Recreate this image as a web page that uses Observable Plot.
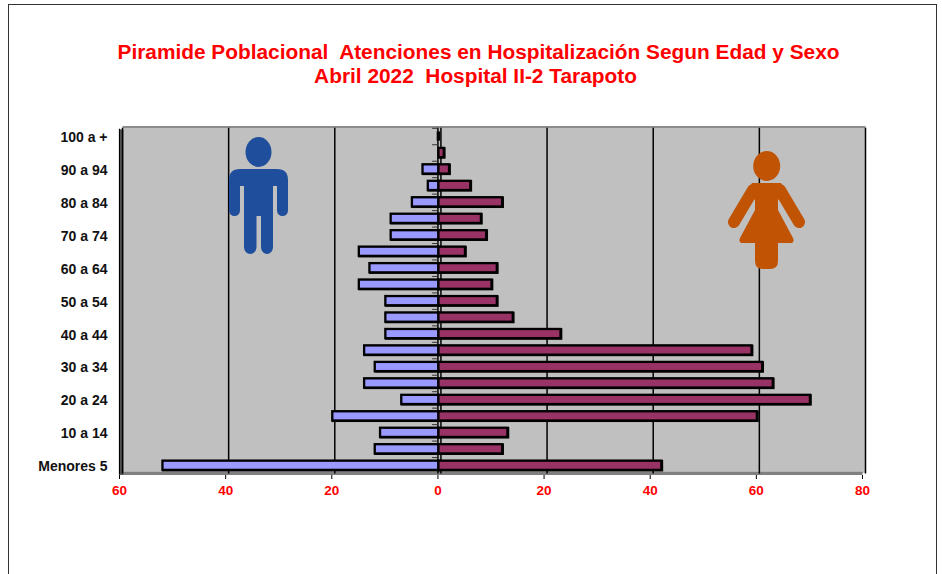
<!DOCTYPE html>
<html><head><meta charset="utf-8">
<script src="https://cdn.jsdelivr.net/npm/d3@7"></script>
<script src="https://cdn.jsdelivr.net/npm/@observablehq/plot@0.6"></script>
<style>
html,body{margin:0;padding:0;background:#fff;overflow:hidden}
#page{position:relative;width:942px;height:574px;font-family:"Liberation Sans",Arial,sans-serif}
#frame{position:absolute;left:8px;top:4px;width:929px;height:580px;border:1.5px solid #333;box-sizing:border-box}
#chart{position:absolute;left:0;top:0}
.t{position:absolute;left:0;width:957px;text-align:center;color:#f00;font-weight:bold;font-size:20.85px;line-height:24px;white-space:pre}
#icons{position:absolute;left:0;top:0}
</style></head><body>
<div id="page">
<div id="frame"></div>
<div id="chart"></div>
<div class="t" style="top:40px">Piramide Poblacional  Atenciones en Hospitalización Segun Edad y Sexo</div>
<div class="t" style="top:64px;left:-3px">Abril 2022  Hospital II-2 Tarapoto</div>
<svg id="icons" width="942" height="574">
  <g fill="#1f4e9c">
    <ellipse cx="258.500" cy="152" rx="13" ry="15"/>
    <path d="M240 169H277Q288 169 288 180V210.500a5.500 5.500 0 0 1-11 0V186H273V247a6 7 0 0 1-12 0V216H256.500V247a6.250 7 0 0 1-12.500 0V186H240V210.500a5.500 5.500 0 0 1-11 0V180Q229 169 240 169Z"/>
  </g>
  <g fill="#c05304" stroke="none">
    <ellipse cx="766.700" cy="166" rx="13.500" ry="15"/>
    <path d="M755 195H778V210L793 238Q795 243 790 243H778V261Q778 269 770 269H763Q755 269 755 261V243H743Q738 243 740 238L755 210Z"/>
    <path d="M753 190L734 222M780 190L799 222" stroke="#c05304" stroke-width="12" stroke-linecap="round" fill="none"/>
    <path d="M752 183H781L786 192L778 200H755L747 192Z"/>
  </g>
</svg>
</div>
<script>
const ages = ["100 a +","95 a 99","90 a 94","85 a 89","80 a 84","75 a 79","70 a 74","65 a 69","60 a 64","55 a 59","50 a 54","45 a 49","40 a 44","35 a 39","30 a 34","25 a 29","20 a 24","15 a 19","10 a 14","5 a 9","Menores 5"];
const hombres = [0,0,3,2,5,9,9,15,13,15,10,10,10,14,12,14,7,20,11,12,52];
const mujeres = [0,1,2,6,12,8,9,5,11,10,11,14,23,59,61,63,70,60,13,12,42];
const yLabels = ["100 a +","90 a 94","80 a 84","70 a 74","60 a 64","50 a 54","40 a 44","30 a 34","20 a 24","10 a 14","Menores 5"];
const xTicks = [-60,-40,-20,0,20,40,60,80];
const menData = ages.map((a,i)=>({age:a,v:-hombres[i]}));
const womenData = ages.map((a,i)=>({age:a,v:mujeres[i]}));
const emptyRows = ages.filter((a,i)=>hombres[i]===0 && mujeres[i]===0);
const bars = (data, fill) => [
  Plot.barX(data,{x1:0,x2:"v",y:"age",fill:"#000",stroke:"#000",strokeWidth:2.3,dx:1.7,dy:0.4}),
  Plot.barX(data,{x1:0,x2:"v",y:"age",fill,stroke:"#000",strokeWidth:2.3,dx:1})
];
const chart = Plot.plot({
  width:942,height:574,
  marginLeft:119,marginRight:80,marginTop:127.8,marginBottom:100.5,
  style:{background:"transparent",fontFamily:"'Liberation Sans',Arial,sans-serif"},
  x:{domain:[-60,80],ticks:xTicks},
  y:{domain:ages,paddingInner:0.44,paddingOuter:0.22,round:false},
  marks:[
    Plot.frame({fill:"#c0c0c0",stroke:null,dx:3.5,dy:-1}),
    Plot.frame({fill:"#808080",insetTop:342.5,dy:1}),
    Plot.frame({fill:"#5a5a5a",insetRight:739,dy:1}),
    Plot.ruleY([ages[0]],{dy:-9.5,dx:3.5,stroke:"#8c8c8c",strokeWidth:2}),
    Plot.ruleX(xTicks,{dx:3,stroke:"#000",strokeWidth:1.5}),
    Plot.ruleX([xTicks[0]],{stroke:"#000",strokeWidth:1.2,dy:1}),
    Plot.ruleX([0],{stroke:"#000",strokeWidth:1.5}),
    Plot.ruleY(ages,{y:d=>d,x1:-1,x2:0,dy:-8.23,stroke:"#333"}),
    ...bars(menData,"#9999ff"),
    ...bars(womenData,"#993366"),
    Plot.tickX(emptyRows,{x:0,y:d=>d,stroke:"#000",strokeWidth:3.5,dx:0.5}),
    Plot.axisX({anchor:"bottom",ticks:xTicks,tickSize:4,dy:1.5,tickPadding:6,tickFormat:d=>Math.abs(d),label:null,fill:"#f00",stroke:"#000",fontSize:13.5,fontWeight:"bold"}),
    Plot.axisY({anchor:"left",ticks:yLabels,tickSize:0,tickPadding:12,dy:1,label:null,fill:"#111",fontSize:14,fontWeight:"bold"})
  ]
});
document.getElementById("chart").appendChild(chart);
</script>
</body></html>
